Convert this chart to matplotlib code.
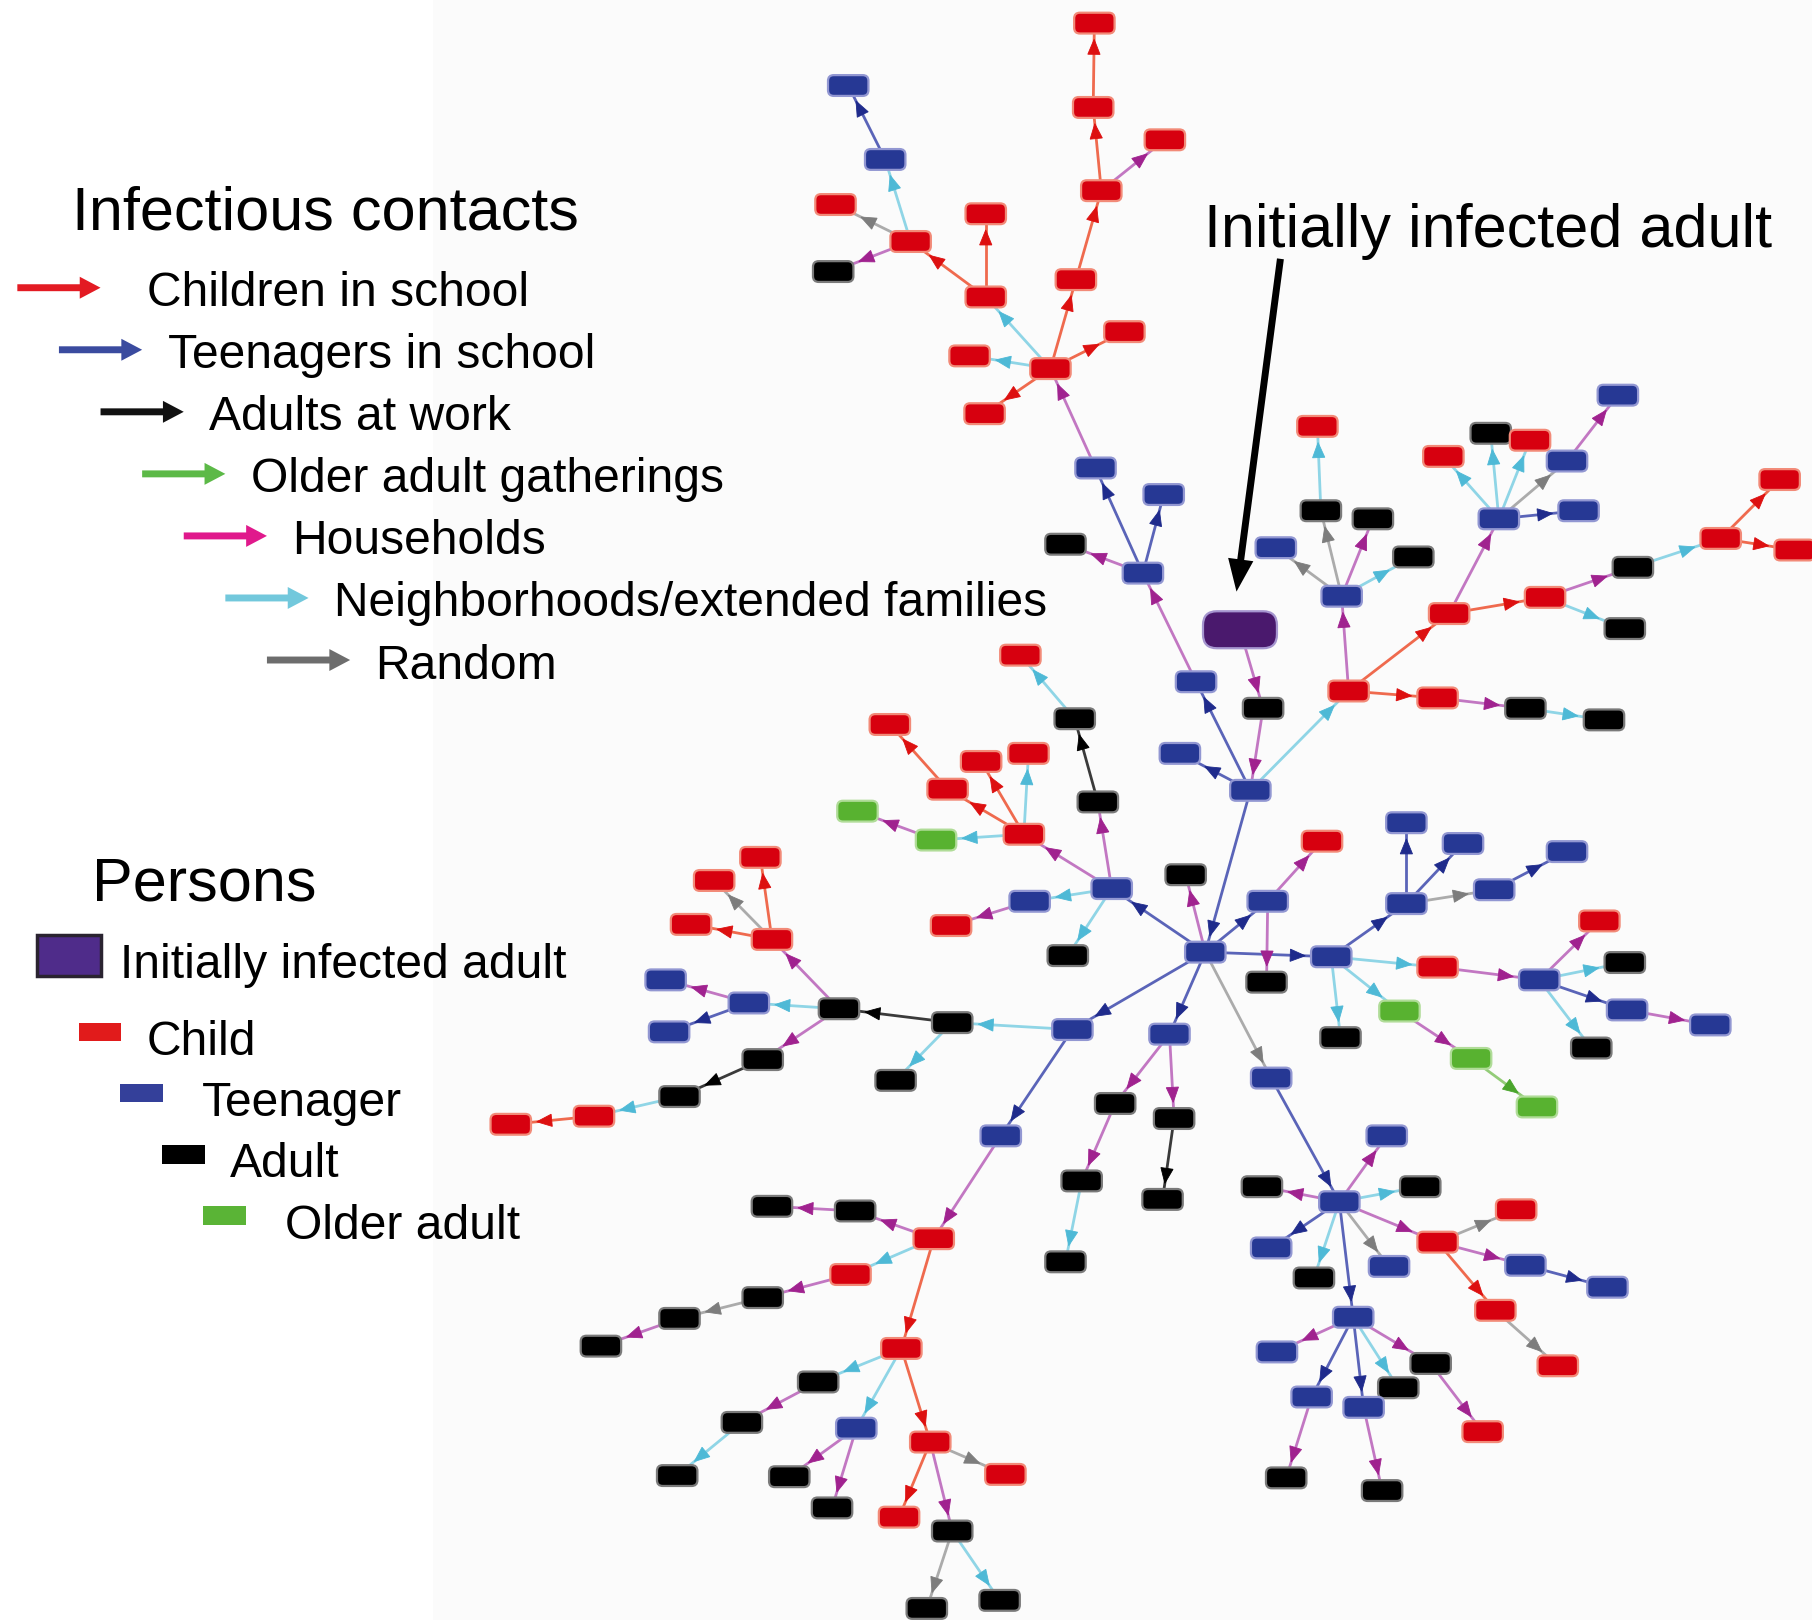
import matplotlib
matplotlib.use('Agg')
import matplotlib.pyplot as plt
from matplotlib.patches import FancyBboxPatch, Polygon, Rectangle
import numpy as np

plt.rcParams['font.family'] = ['Liberation Sans', 'DejaVu Sans']

# ---------------- data ----------------
# persons (transmission-tree nodes): name, x, y, kind
node_names = ['P', 'hub'] + ['n%d' % i for i in range(1, 149)]
node_x = [1073, 1043,
          734, 766, 723, 788, 721, 853, 853, 947, 946, 1008,
          953, 931, 973, 839, 909, 852, 948, 1007, 922, 989,
          1093, 1035, 1021, 1082, 1167, 1244, 1320, 1388, 1254, 1337,
          1413, 1406, 1489, 1540, 1553, 1161, 1104, 1143, 1188, 1223,
          1140, 1297, 1249, 1290, 1324, 1356, 1366, 1400, 962, 950,
          930, 883, 886, 820, 770, 849, 890, 810, 742, 891,
          823, 924, 1026, 1097, 1144, 1096, 1152, 1217, 1266, 1356,
          1293, 1217, 1244, 1332, 1384, 1406, 1408, 1480, 1377, 1160,
          1211, 1273, 1330, 928, 1012, 1100, 965, 1016, 936, 1006,
          922, 866, 808, 740, 668, 736, 660, 588, 520, 780,
          708, 642, 586, 741, 683, 720, 805, 870, 778, 824,
          802, 865, 824, 726, 668, 598, 618, 658, 648, 576,
          579, 660, 588, 514, 442, 775, 1159, 1200, 1092, 1229,
          1100, 1137, 1202, 1244, 1312, 1320, 1391, 1294, 1348, 1171,
          1105, 1238, 1210, 1135, 1180, 1283, 1113, 1196]
node_y = [545, 824,
          74, 138, 177, 209, 235, 185, 257, 20, 93, 121,
          165, 242, 287, 308, 319, 358, 405, 428, 471, 496,
          613, 590, 652, 684, 598, 604, 613, 623, 531, 517,
          491, 544, 466, 415, 476, 516, 474, 442, 449, 482,
          369, 449, 395, 375, 381, 399, 442, 342, 769, 694,
          622, 567, 722, 683, 627, 659, 652, 727, 702, 780,
          801, 827, 757, 780, 728, 850, 828, 712, 730, 737,
          770, 782, 837, 848, 797, 833, 874, 887, 907, 898,
          875, 916, 958, 891, 895, 933, 955, 968, 1022, 1038,
          1092, 983, 1072, 1048, 1044, 1103, 1123, 1141, 1165, 1167,
          1196, 1231, 1277, 1236, 1278, 1305, 1248, 1276, 1313, 1325,
          1392, 1385, 885, 873, 813, 800, 762, 742, 868, 848,
          893, 917, 949, 966, 973, 935, 1040, 983, 1027, 1027,
          1080, 1106, 1096, 1075, 1047, 1095, 1114, 1134, 1182, 1140,
          1170, 1180, 1201, 1209, 1218, 1239, 1279, 1290]
# P = initially infected adult, C = child, T = teenager, A = adult, O = older adult
node_kind = list('PT' +
                 'TTCCACCCCC' 'CCCCCCTTAT'
                 'ATTTCCAACC' 'AACCCTTAAA'
                 'CTCACTTTTA' 'ACCCCCCOOT'
                 'CAATCATTTT' 'TTCTCATTAA'
                 'OOOTTTAAAA' 'ATCAACAAAC'
                 'AAATAACCCA' 'AAAACCCCTT'
                 'TAACCATTAA' 'TATCCTTCCT'
                 'TAATTCAA')

# infectious contacts: source, target, setting
# C children in school, T teens in school, W adults at work, O older adult gatherings,
# H households, N neighborhoods/extended families, R random
edge_from = ['P', 'n21', 'n24', 'n24', 'n22', 'n20', 'n20', 'n20', 'n17', 'n15',
             'n15', 'n15', 'n15', 'n15', 'n12', 'n11', 'n9', 'n11', 'n7', 'n7',
             'n4', 'n2', 'n4', 'n4', 'n24', 'n24', 'n25', 'n26', 'n27', 'n25',
             'n25', 'n29', 'n30', 'n30', 'n31', 'n33', 'n33', 'n29', 'n36', 'n36',
             'n36', 'n36', 'n38', 'n42', 'n42', 'n42', 'n42', 'n42', 'n46', 'hub',
             'n49', 'n50', 'n51', 'n49', 'n53', 'n54', 'n53', 'n53', 'n53', 'n58',
             'n49', 'n60', 'n49', 'hub', 'hub', 'n64', 'n64', 'hub', 'n67', 'n72',
             'n72', 'n72', 'n71', 'n67', 'n73', 'n74', 'n74', 'n74', 'n77', 'n74',
             'n67', 'n67', 'n81', 'n82', 'hub', 'hub', 'hub', 'n85', 'n85', 'n87',
             'n88', 'n89', 'n84', 'n92', 'n93', 'n94', 'n93', 'n96', 'n97', 'n98',
             'n93', 'n100', 'n101', 'n102', 'n100', 'n104', 'n104', 'n100', 'n107', 'n107',
             'n107', 'n110', 'n110', 'n84', 'n113', 'n113', 'n114', 'n115', 'n115', 'n115',
             'n114', 'n119', 'n119', 'n114', 'n122', 'n123', 'n124', 'n86', 'n127', 'n127',
             'n127', 'n127', 'n127', 'n127', 'n127', 'n134', 'n134', 'n136', 'n134', 'n138',
             'n127', 'n140', 'n140', 'n140', 'n140', 'n140', 'n142', 'n144', 'n145']
edge_to = ['n21', 'n24', 'n22', 'n23', 'n20', 'n17', 'n18', 'n19', 'n15', 'n7',
           'n12', 'n13', 'n14', 'n16', 'n11', 'n9', 'n8', 'n10', 'n4', 'n6',
           'n2', 'n1', 'n3', 'n5', 'n25', 'hub', 'n26', 'n27', 'n28', 'n29',
           'n36', 'n30', 'n31', 'n32', 'n33', 'n34', 'n35', 'n42', 'n37', 'n38',
           'n39', 'n40', 'n41', 'n43', 'n44', 'n45', 'n46', 'n47', 'n48', 'n49',
           'n50', 'n51', 'n52', 'n53', 'n54', 'n55', 'n56', 'n57', 'n58', 'n59',
           'n60', 'n61', 'n62', 'n63', 'n64', 'n65', 'n66', 'n67', 'n72', 'n68',
           'n69', 'n71', 'n70', 'n73', 'n74', 'n75', 'n76', 'n77', 'n78', 'n79',
           'n80', 'n81', 'n82', 'n83', 'n84', 'n85', 'n86', 'n87', 'n88', 'n89',
           'n90', 'n91', 'n92', 'n93', 'n94', 'n95', 'n96', 'n97', 'n98', 'n99',
           'n100', 'n101', 'n102', 'n103', 'n104', 'n105', 'n106', 'n107', 'n108', 'n109',
           'n110', 'n111', 'n112', 'n113', 'n114', 'n126', 'n115', 'n116', 'n117', 'n118',
           'n119', 'n120', 'n121', 'n122', 'n123', 'n124', 'n125', 'n127', 'n128', 'n129',
           'n130', 'n131', 'n132', 'n133', 'n134', 'n135', 'n136', 'n137', 'n138', 'n139',
           'n140', 'n141', 'n142', 'n143', 'n144', 'n145', 'n146', 'n147', 'n148']
edge_kind = list('HHTTHTTHHN' 'CCNCCCCHCC'
                 'NTRHNTCHNC' 'HCHNNCCHRR'
                 'HNNNNNRTHT' 'HWNHCCCNNH'
                 'NHNHTHHTTT' 'TRTNHHNTHN'
                 'NNHOTTRHHH' 'WNTHHHNHRH'
                 'CNHNNHHCRC' 'HRNNWNHCRC'
                 'NHTHWNCTHH' 'NTNRHRHTCR'
                 'THHNTTHHH')

contact_labels = ['Children in school', 'Teenagers in school', 'Adults at work',
                  'Older adult gatherings', 'Households',
                  'Neighborhoods/extended families', 'Random']
contact_codes = ['C', 'T', 'W', 'O', 'H', 'N', 'R']
person_labels = ['Child', 'Teenager', 'Adult', 'Older adult']
person_codes = ['C', 'T', 'A', 'O']

# ---------------- styles ----------------
W, Hh = 1568, 1402
node_face = {'C': '#d7000f', 'T': '#263894', 'A': '#000000', 'O': '#58b230', 'P': '#4a196d'}
node_edge = {'C': '#f28a78', 'T': '#9297d2', 'A': '#7a7a7a', 'O': '#b0dc98', 'P': '#a595cf'}
line_col = {'C': '#ef6a4e', 'T': '#5a64b8', 'W': '#3a3a3a', 'O': '#93cc78',
            'H': '#c277c2', 'N': '#8fd5e6', 'R': '#ababab'}
head_col = {'C': '#dd1010', 'T': '#1f2b8c', 'W': '#000000', 'O': '#4aa52c',
            'H': '#a0228f', 'N': '#4eb9d6', 'R': '#7d7d7d'}
legend_arrow_col = {'C': '#e31b23', 'T': '#3a4b9f', 'W': '#111111', 'O': '#5cb947',
                    'H': '#e0198c', 'N': '#72c8dc', 'R': '#6d6d6d'}
legend_rect_col = {'C': '#e11b1b', 'T': '#34409a', 'A': '#000000', 'O': '#5ab436'}

fig = plt.figure(figsize=(18.12, 16.2), dpi=100)
ax = fig.add_axes([0, 0, 1, 1])
ax.set_xlim(0, W)
ax.set_ylim(Hh, 0)
ax.axis('off')
ax.axvspan(375, W, color='#fbfbfb', zorder=0, lw=0)

pos = {n: (x, y) for n, x, y in zip(node_names, node_x, node_y)}
kind = dict(zip(node_names, node_kind))

NW, NH = 35, 18
PW, PH = 64, 32


def half_size(n):
    return (PW / 2, PH / 2) if kind[n] == 'P' else (NW / 2, NH / 2)


# edges
for s, t, k in zip(edge_from, edge_to, edge_kind):
    (sx, sy), (tx, ty) = pos[s], pos[t]
    ax.plot([sx, tx], [sy, ty], color=line_col[k], lw=2.0, zorder=1,
            solid_capstyle='butt')
    d = np.array([tx - sx, ty - sy], float)
    L = np.hypot(*d)
    d /= L
    hw, hh = half_size(t)
    r = min(hw / abs(d[0]) if abs(d[0]) > 1e-9 else 1e9,
            hh / abs(d[1]) if abs(d[1]) > 1e-9 else 1e9)
    tip = np.array([tx, ty]) - d * (r + 5)
    base = tip - d * 13
    perp = np.array([-d[1], d[0]])
    tri = [tip, base + perp * 5.3, base - perp * 5.3]
    ax.add_patch(Polygon(tri, closed=True, fc=head_col[k], ec=head_col[k],
                         lw=0.6, zorder=2))

# nodes
for n, x, y, k in zip(node_names, node_x, node_y, node_kind):
    w, h = (PW, PH) if k == 'P' else (NW, NH)
    rs = 12 if k == 'P' else 5
    ax.add_patch(FancyBboxPatch((x - w / 2, y - h / 2), w, h,
                                boxstyle='round,pad=0,rounding_size=%d' % rs,
                                fc=node_face[k], ec=node_edge[k], lw=1.6, zorder=3))

# ---------------- legend: contacts ----------------
big = 44
small = 34.6
ax.text(62, 199, 'Infectious contacts', fontsize=big, va='baseline', ha='left')
for i, (lab, c) in enumerate(zip(contact_labels, contact_codes)):
    x0 = 15 + i * 36
    y = 249 + i * 53.7
    ax.arrow(x0, y, 72, 0, width=6, head_width=19, head_length=18,
             length_includes_head=True, fc=legend_arrow_col[c], ec='none', zorder=4)
    lx = 127 if i == 0 else x0 + 94
    ax.text(lx, y + 16, lab, fontsize=small, va='baseline', ha='left')

# ---------------- legend: persons ----------------
ax.text(80, 779, 'Persons', fontsize=big, va='baseline', ha='left')
ax.add_patch(Rectangle((32, 809), 55, 36, fc='#4f2c8a', ec='#2a2330', lw=2.5, zorder=4))
ax.text(104, 846, 'Initially infected adult', fontsize=small, va='baseline', ha='left')
for i, (lab, c) in enumerate(zip(person_labels, person_codes)):
    rx = 68 + i * 36
    ry = 885 + i * 53
    ax.add_patch(Rectangle((rx, ry), 37, 16, fc=legend_rect_col[c], ec='none', zorder=4))
    lx = [127, 175, 199, 247][i]
    ax.text(lx, ry + 28, lab, fontsize=small, va='baseline', ha='left')

# ---------------- annotation ----------------
ax.text(1042, 214, 'Initially infected adult', fontsize=big, va='baseline', ha='left')
ax.arrow(1108, 224, -38, 288, width=6, head_width=22, head_length=28,
         length_includes_head=True, fc='black', ec='none', zorder=4)

fig.savefig('out.png', dpi=100, facecolor='white')
